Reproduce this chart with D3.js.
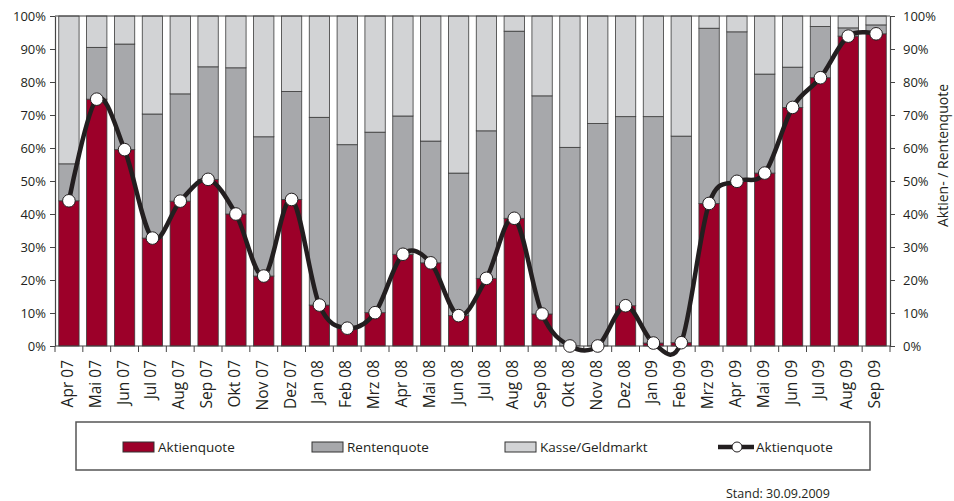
<!DOCTYPE html>
<html>
<head>
<meta charset="utf-8">
<script src="https://cdn.jsdelivr.net/npm/d3@7"></script>
<style>
  html, body { margin: 0; padding: 0; background: #fff; }
  svg { display: block; font-family: "Open Sans", sans-serif; }
</style>
</head>
<body>
<svg id="chart" width="954" height="501"></svg>
<script>
const months = ["Apr 07","Mai 07","Jun 07","Jul 07","Aug 07","Sep 07","Okt 07","Nov 07","Dez 07",
  "Jan 08","Feb 08","Mrz 08","Apr 08","Mai 08","Jun 08","Jul 08","Aug 08","Sep 08","Okt 08","Nov 08","Dez 08",
  "Jan 09","Feb 09","Mrz 09","Apr 09","Mai 09","Jun 09","Jul 09","Aug 09","Sep 09"];
const aktien = [44.0,74.8,59.5,32.7,43.9,50.5,40.0,21.2,44.4,12.4,5.4,10.1,27.8,25.2,9.2,20.5,38.7,9.7,0,0,12.2,0.9,1.0,43.2,49.9,52.4,72.3,81.3,93.9,94.6];
const rente  = [11.2,15.7,32.0,37.6,32.5,34.1,44.3,42.2,32.7,56.9,55.6,54.7,41.9,36.9,43.2,44.7,56.7,66.1,60.2,67.4,57.3,68.6,62.6,53.1,45.3,30.0,12.2,15.5,2.5,2.7];
const kasse  = [44.8,9.5,8.5,29.7,23.6,15.4,15.7,36.6,22.9,30.7,39.0,35.2,30.3,37.9,47.6,34.8,4.6,24.2,39.8,32.6,30.5,30.5,36.4,3.7,4.8,17.6,15.5,3.2,3.6,2.7];
const yTicks = [0,10,20,30,40,50,60,70,80,90,100];
const seriesNames = ["Aktienquote","Rentenquote","Kasse/Geldmarkt"];
const lineName = "Aktienquote";
const footer = "Stand: 30.09.2009";
const rightTitle = "Aktien- / Rentenquote";

const colors = {Aktienquote:"#9c0029", Rentenquote:"#a7a8ab", "Kasse/Geldmarkt":"#d2d3d5"};
const ink = "#231f20";

const svg = d3.select("#chart");
const L = 55, R = 890, T = 16, B = 346;

const x = d3.scaleBand().domain(months).range([L, R]).paddingInner(0.27).paddingOuter(0.135);
const y = d3.scaleLinear().domain([0, 100]).range([B, T]);

const table = months.map((m, i) => ({month: m, Aktienquote: aktien[i], Rentenquote: rente[i], "Kasse/Geldmarkt": kasse[i]}));
const stack = d3.stack().keys(seriesNames)(table);

// bars
svg.append("g").selectAll("g").data(stack).join("g")
  .attr("fill", d => colors[d.key])
  .selectAll("rect").data(d => d).join("rect")
  .attr("x", d => x(d.data.month))
  .attr("width", x.bandwidth())
  .attr("y", d => y(Math.min(100, d[1])))
  .attr("height", d => Math.max(0, y(d[0]) - y(Math.min(100, d[1]))))
  .attr("stroke", "#3a3a3a").attr("stroke-width", 0.8);

// frame
svg.append("line").attr("x1", L).attr("x2", R).attr("y1", T).attr("y2", T).attr("stroke", "#444").attr("stroke-width", 1.2);

// left axis
const yl = svg.append("g").attr("transform", `translate(${L},0)`)
  .call(d3.axisLeft(y).tickValues(yTicks).tickFormat(d => d + "%").tickSize(5).tickSizeOuter(0));
// right axis
const yr = svg.append("g").attr("transform", `translate(${R},0)`)
  .call(d3.axisRight(y).tickValues(yTicks).tickFormat(d => d + "%").tickSize(5).tickSizeOuter(0));
[yl, yr].forEach(g => {
  g.select(".domain").attr("stroke", "#444").attr("stroke-width", 1.2);
  g.selectAll(".tick line").attr("stroke", "#444");
  g.selectAll(".tick text").attr("font-size", "13px").attr("fill", ink).attr("font-family", "Open Sans, sans-serif");
});
yl.selectAll(".tick text").attr("x", -9);
yr.selectAll(".tick text").attr("x", 13);

// bottom axis
const step = x.step();
const boundaries = d3.range(months.length + 1).map(i => L + i * step);
svg.append("line").attr("x1", L).attr("x2", R).attr("y1", B).attr("y2", B).attr("stroke", "#444").attr("stroke-width", 1.2);
svg.append("g").selectAll("line").data(boundaries).join("line")
  .attr("x1", d => d).attr("x2", d => d).attr("y1", B).attr("y2", B + 6)
  .attr("stroke", "#444");
svg.append("g").selectAll("text").data(months).join("text")
  .attr("transform", d => `translate(${x(d) + x.bandwidth() / 2 + 4},360) rotate(-90)`)
  .attr("text-anchor", "end")
  .attr("font-size", "15.5px").attr("fill", ink)
  .text(d => d);

// line
const cx = d => x(d) + x.bandwidth() / 2;
const line = d3.line().x((d, i) => cx(months[i])).y(d => y(d)).curve(d3.curveCardinal.tension(0));
svg.append("path").datum(aktien).attr("d", line)
  .attr("fill", "none").attr("stroke", ink).attr("stroke-width", 4.5).attr("stroke-linejoin", "round");
svg.append("g").selectAll("circle").data(aktien).join("circle")
  .attr("cx", (d, i) => cx(months[i])).attr("cy", d => y(d)).attr("r", 6.3)
  .attr("fill", "#fff").attr("stroke", ink).attr("stroke-width", 1);

// right title
svg.append("text")
  .attr("transform", `translate(948,${(78 + 233) / 2}) rotate(-90)`)
  .attr("text-anchor", "middle").attr("font-size", "14px").attr("fill", ink)
  .text(rightTitle);

// legend
const lg = svg.append("g");
lg.append("rect").attr("x", 76).attr("y", 422).attr("width", 794).attr("height", 48)
  .attr("fill", "#fff").attr("stroke", "#555").attr("stroke-width", 1.5);
const legX = [123, 312, 505];
seriesNames.forEach((k, i) => {
  lg.append("rect").attr("x", legX[i]).attr("y", 442).attr("width", 31).attr("height", 10)
    .attr("fill", colors[k]).attr("stroke", "#333").attr("stroke-width", 1);
  lg.append("text").attr("x", legX[i] + 35).attr("y", 452).attr("font-size", "13.5px").attr("fill", ink).text(k);
});
lg.append("line").attr("x1", 718).attr("x2", 754).attr("y1", 447).attr("y2", 447)
  .attr("stroke", ink).attr("stroke-width", 4.5);
lg.append("circle").attr("cx", 737).attr("cy", 447).attr("r", 5)
  .attr("fill", "#fff").attr("stroke", ink).attr("stroke-width", 1);
lg.append("text").attr("x", 756).attr("y", 452).attr("font-size", "13.5px").attr("fill", ink).text(lineName);

// footer
svg.append("text").attr("x", 726).attr("y", 498).attr("font-size", "12.5px").attr("fill", ink).text(footer);
</script>
</body>
</html>
